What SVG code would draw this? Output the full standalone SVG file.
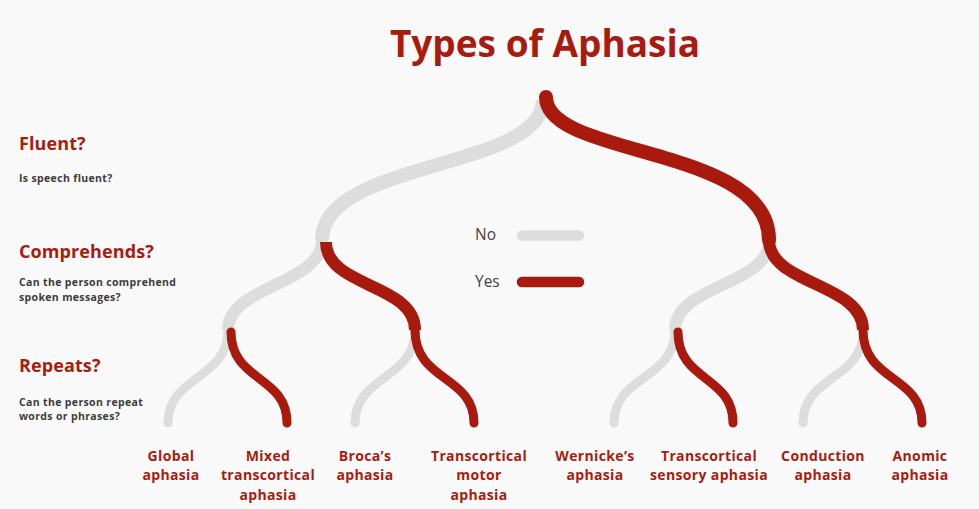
<svg xmlns="http://www.w3.org/2000/svg" width="979" height="509" viewBox="0 0 979 509">
<style>
.bg{fill:#f9f9f9}
.title{font-family:"Open Sans","Noto Sans",sans-serif;font-weight:700;font-size:37px;fill:#a81c10}
.q{font-family:"Open Sans","Noto Sans",sans-serif;font-weight:700;font-size:18px;fill:#a81c10;letter-spacing:0.1px}
.qd{font-family:"Open Sans","Noto Sans",sans-serif;font-weight:700;font-size:10.5px;fill:#3c3c3c;letter-spacing:0.35px}
.leaf{font-family:"Open Sans","Noto Sans",sans-serif;font-weight:700;font-size:14px;fill:#a81c10;text-anchor:middle;letter-spacing:0.35px}
.leg{font-family:"Open Sans","Noto Sans",sans-serif;font-size:15.5px;fill:#444}
.g{fill:none;stroke:#dddddd}
.r{fill:none;stroke:#a8190e}
.l1{stroke-width:14}
.l2{stroke-width:12}
.l3{stroke-width:9;stroke-linecap:round}
</style>
<rect class="bg" x="0" y="0" width="979" height="509"/>
<g id="title"><text class="title" x="545" y="57" text-anchor="middle">Types of Aphasia</text></g>
<g id="questions">
<g id="q-fluent"><text class="q" x="19" y="150">Fluent?</text><text class="qd" x="19" y="182">Is speech fluent?</text></g>
<g id="q-comprehends"><text class="q" x="19" y="258">Comprehends?</text><text class="qd" x="19" y="286">Can the person comprehend</text><text class="qd" x="19" y="301">spoken messages?</text></g>
<g id="q-repeats"><text class="q" x="19" y="372">Repeats?</text><text class="qd" x="19" y="406">Can the person repeat</text><text class="qd" x="19" y="420">words or phrases?</text></g>
</g>
<g id="legend">
<text class="leg" x="475" y="240">No</text>
<line x1="522" y1="235.5" x2="579" y2="235.5" stroke="#dddddd" stroke-width="10.5" stroke-linecap="round"/>
<text class="leg" x="475" y="287">Yes</text>
<line x1="522" y1="282" x2="579" y2="282" stroke="#a8190e" stroke-width="10.5" stroke-linecap="round"/>
</g>
<g id="connectors">
<path class="g l1" d="M543,100 C543,170 322,160 322,240"/>
<path class="g l2" d="M322,240 C322,285 228,285 228,330"/>
<path class="g l2" d="M769,242 C769,285 675,285 675,330"/>
<path class="g l3" d="M228,330 C228,380 168,375 168,423"/>
<path class="g l3" d="M415,330 C415,380 355,375 355,423"/>
<path class="g l3" d="M675,330 C675,380 614,375 614,423"/>
<path class="g l3" d="M863,332 C863,380 803,375 803,423"/>
<path class="r l1" stroke-linecap="round" d="M546,97 C546,158 769,145 769,240"/>
<path class="r l2" d="M326,242 C326,288 415,283 415,330"/>
<path class="r l2" d="M769,240 C769,285 863,283 863,330"/>
<path class="r l3" d="M231,332 C231,382 287,375 287,423"/>
<path class="r l3" d="M415,330 C415,382 474,375 474,423"/>
<path class="r l3" d="M678,332 C678,382 733,375 733,423"/>
<path class="r l3" d="M863,330 C863,382 922,375 922,423"/>
</g>
<g id="leaf-global"><text class="leaf" x="171" y="461">Global</text><text class="leaf" x="171" y="480">aphasia</text></g>
<g id="leaf-mixed"><text class="leaf" x="268" y="461">Mixed</text><text class="leaf" x="268" y="480">transcortical</text><text class="leaf" x="268" y="500">aphasia</text></g>
<g id="leaf-broca"><text class="leaf" x="365" y="461">Broca’s</text><text class="leaf" x="365" y="480">aphasia</text></g>
<g id="leaf-tc-motor"><text class="leaf" x="479" y="461">Transcortical</text><text class="leaf" x="479" y="480">motor</text><text class="leaf" x="479" y="500">aphasia</text></g>
<g id="leaf-wernicke"><text class="leaf" x="595" y="461">Wernicke’s</text><text class="leaf" x="595" y="480">aphasia</text></g>
<g id="leaf-tc-sensory"><text class="leaf" x="709" y="461">Transcortical</text><text class="leaf" x="709" y="480">sensory aphasia</text></g>
<g id="leaf-conduction"><text class="leaf" x="823" y="461">Conduction</text><text class="leaf" x="823" y="480">aphasia</text></g>
<g id="leaf-anomic"><text class="leaf" x="920" y="461">Anomic</text><text class="leaf" x="920" y="480">aphasia</text></g>
</svg>
